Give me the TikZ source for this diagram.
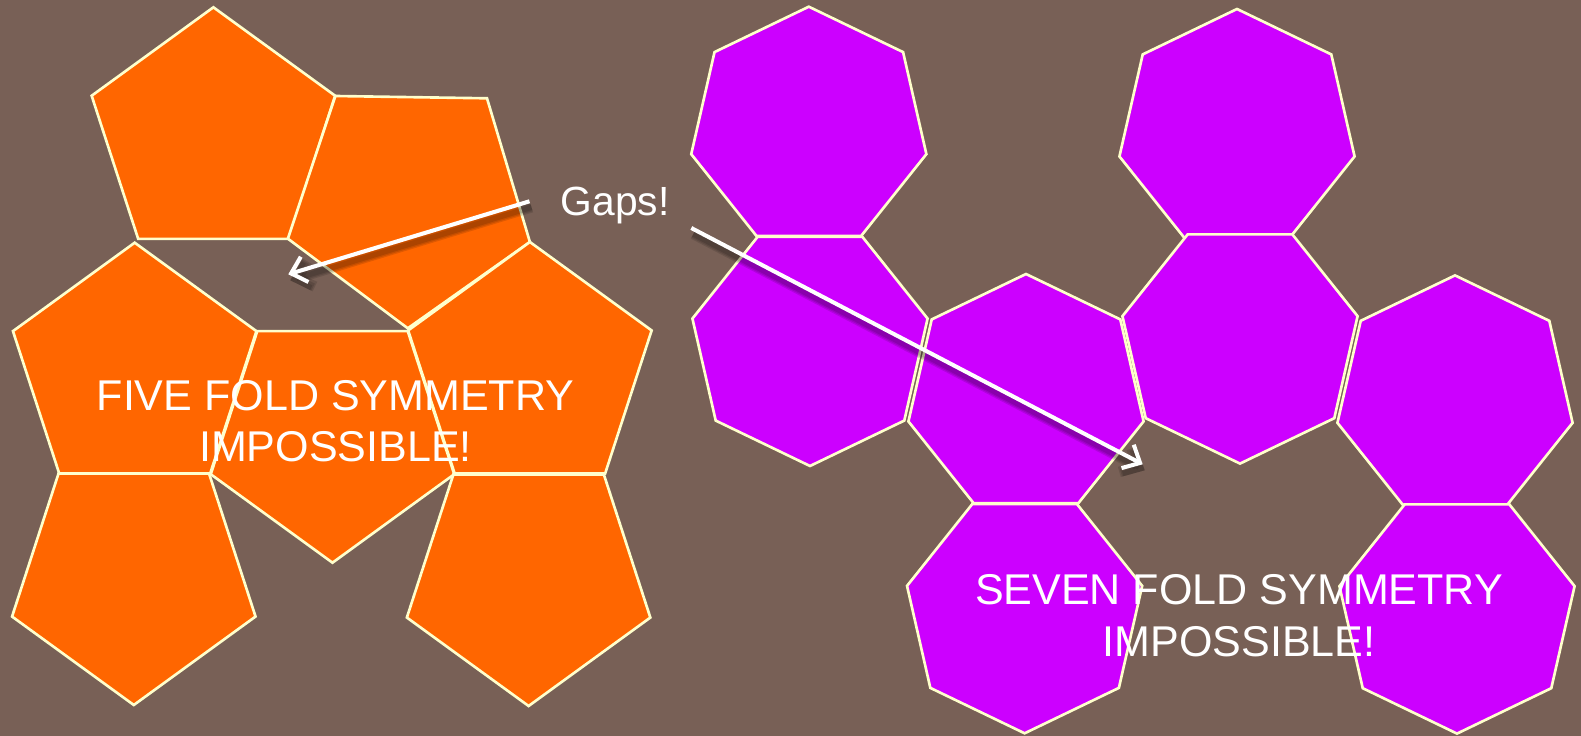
\documentclass[tikz,border=0pt]{standalone}
\usepackage{fontspec}
\setmainfont{Liberation Sans}
\usetikzlibrary{arrows.meta}
\definecolor{bgbrown}{RGB}{120,96,86}
\definecolor{penta}{RGB}{255,102,0}
\definecolor{hepta}{RGB}{204,0,255}
\definecolor{edgecol}{RGB}{255,255,204}
\newcommand\rpoly[6]{%
  \pgfmathtruncatemacro\rpN{#2-1}%
  \draw[#1] ({#3+#5*sin(#6)},{#4-#5*cos(#6)})
    \foreach \k in {1,...,\rpN}{ -- ({#3+#5*sin(#6+360*\k/#2)},{#4-#5*cos(#6+360*\k/#2)}) } -- cycle;}
\begin{document}
\begin{tikzpicture}[x=0.02cm, y=-0.02cm,
  pent/.style={fill=penta, draw=edgecol, line width=1.5pt},
  hept/.style={fill=hepta, draw=edgecol, line width=1.5pt},
  gaparrow/.style={draw=white, line width=2.3pt, -{Straight Barb[length=8pt,width=15pt]}},
  gapshadow/.style={draw=black, line width=#1, opacity=0.12, -{Straight Barb[length=8pt,width=15pt]}},
  bigtext/.style={text=white, font=\fontsize{24.5}{29.2}\selectfont, align=center, inner sep=0pt},
  gapstext/.style={text=white, font=\fontsize{23.2}{27}\selectfont, inner sep=0pt}]
\fill[bgbrown] (0,0) rectangle (1581,736);
\useasboundingbox (0,0) rectangle (1581,736);
% pentagons
\rpoly{pent}{5}{213.4}{135.3}{128}{0}
\draw[pent] (335.4,96) -- (487,98.3) -- (529.9,242) -- (407.8,328.3) -- (287.9,238.7) -- cycle;
\rpoly{pent}{5}{134.7}{370.7}{128}{0}
\rpoly{pent}{5}{529.9}{370}{128}{0}
\rpoly{pent}{5}{332.5}{434.7}{128}{180}
\rpoly{pent}{5}{133.8}{577}{128}{180}
\rpoly{pent}{5}{528.6}{578}{128}{180}
% heptagons
\rpoly{hept}{7}{808.8}{127.3}{120.6}{0}
\rpoly{hept}{7}{1237}{129.6}{120.6}{0}
\rpoly{hept}{7}{810}{345.4}{120.6}{180}
\rpoly{hept}{7}{1240}{343}{120.6}{180}
\rpoly{hept}{7}{1026}{394.6}{120.6}{0}
\rpoly{hept}{7}{1455}{396}{120.6}{0}
\rpoly{hept}{7}{1024.6}{612.7}{120.6}{180}
\rpoly{hept}{7}{1457}{613}{120.6}{180}
% arrows
\coordinate (g1s) at (529.5,201.3);
\coordinate (g1e) at (288.3,274.3);
\coordinate (g2s) at (691.3,228);
\coordinate (g2e) at (1142.7,464.3);
\foreach \w in {6pt,4.5pt,3pt}{
  \draw[gapshadow=\w] ([shift={(2,6)}]g1s) -- ([shift={(2,6)}]g1e);
  \draw[gapshadow=\w] ([shift={(2,6)}]g2s) -- ([shift={(2,6)}]g2e);
}
\draw[gaparrow] (g1s) -- (g1e);
\draw[gaparrow] (g2s) -- (g2e);
% texts
\node[gapstext, anchor=base] (gaps) at (615,216) {Gaps!};
\node[bigtext] (five) at (335.5,421) {FIVE FOLD SYMMETRY\\IMPOSSIBLE!};
\node[bigtext] (seven) at (1239,615.7) {SEVEN FOLD SYMMETRY\\IMPOSSIBLE!};
\end{tikzpicture}
\end{document}
